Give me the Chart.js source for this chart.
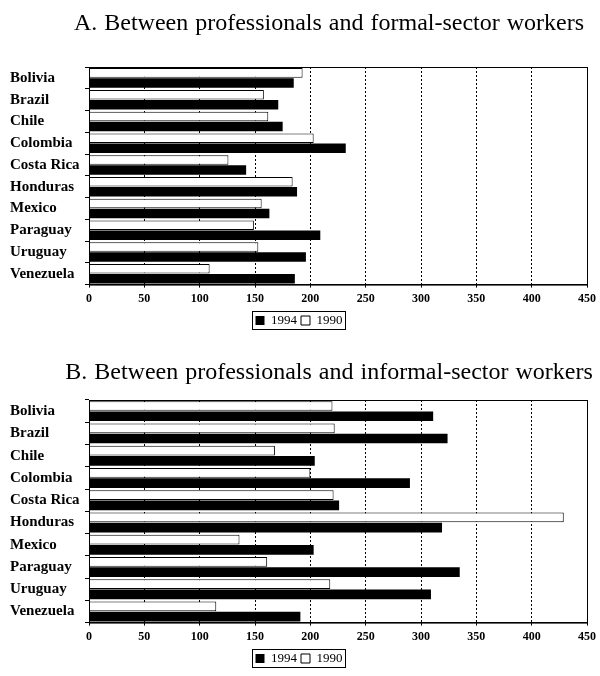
<!DOCTYPE html>
<html lang="en">
<head>
    <meta charset="UTF-8">
    <title>Wage gaps</title>
    <script src="https://cdn.jsdelivr.net/npm/chart.js"></script>
    <style>
        html, body {
            margin: 0;
            padding: 0;
            background: #fff;
        }
        .panel {
            position: relative;
            width: 600px;
            height: 338px;
        }
        .panel canvas {
            display: block;
        }
        .title {
            position: absolute;
            left: 29px;
            width: 600px;
            text-align: center;
            font-family: 'Liberation Serif', serif;
            font-size: 24px;
            line-height: 28px;
            color: #000;
            word-spacing: 1px;
        }
    </style>
</head>
<body>
    <div class="panel">
        <div class="title" style="top: 8px;">A. Between professionals and formal-sector workers</div>
        <canvas id="chartA" width="600" height="338"></canvas>
    </div>
    <div class="panel">
        <div class="title" style="top: 19px;">B. Between professionals and informal-sector workers</div>
        <canvas id="chartB" width="600" height="338"></canvas>
    </div>
    <script>
        const countries = ['Bolivia', 'Brazil', 'Chile', 'Colombia', 'Costa Rica',
                           'Honduras', 'Mexico', 'Paraguay', 'Uruguay', 'Venezuela'];
        const xTicks = [0, 50, 100, 150, 200, 250, 300, 350, 400, 450];

        // Panel A: professionals vs formal-sector workers
        const formal1990 = [193, 158, 162, 203, 126, 184, 156, 149, 153, 109];
        const formal1994 = [185, 171, 175, 232, 142, 188, 163, 209, 196, 186];

        // Panel B: professionals vs informal-sector workers
        const informal1990 = [220, 222, 168, 200, 221, 429, 136, 161, 218, 115];
        const informal1994 = [311, 324, 204, 290, 226, 319, 203, 335, 309, 191];

        // draws the frame around the plot and the box around the legend
        const framePlugin = {
            id: 'frame',
            afterDraw(chart) {
                const ctx = chart.ctx;
                const a = chart.chartArea;
                ctx.save();
                ctx.strokeStyle = '#000';
                ctx.lineWidth = 1;
                ctx.strokeRect(a.left + 0.5, a.top + 0.5, a.right - a.left, a.bottom - a.top);
                const boxes = chart.legend.legendHitBoxes;
                if (boxes && boxes.length) {
                    const first = boxes[0];
                    const last = boxes[boxes.length - 1];
                    const x0 = first.left - 4;
                    const x1 = last.left + last.width + 2;
                    const y0 = first.top - 3;
                    ctx.strokeRect(Math.round(x0) + 0.5, Math.round(y0) + 0.5, Math.round(x1 - x0), first.height + 5);
                }
                ctx.restore();
            }
        };

        function makeChart(id, padTop, d1990, d1994) {
            const ctx = document.getElementById(id).getContext('2d');
            return new Chart(ctx, {
                type: 'bar',
                data: {
                    labels: countries,
                    datasets: [{
                        label: '1990',
                        data: d1990,
                        backgroundColor: '#fff',
                        borderColor: '#000',
                        borderWidth: 1,
                        borderSkipped: 'left'
                    }, {
                        label: '1994',
                        data: d1994,
                        backgroundColor: '#000',
                        borderColor: '#000',
                        borderWidth: 0
                    }]
                },
                options: {
                    indexAxis: 'y',
                    responsive: false,
                    animation: false,
                    layout: { padding: { left: 10, right: 12, top: padTop, bottom: 1 } },
                    datasets: {
                        bar: { categoryPercentage: 0.92, barPercentage: 0.95 }
                    },
                    scales: {
                        x: {
                            min: 0,
                            max: 450,
                            afterBuildTicks: (axis) => { axis.ticks = xTicks.map(v => ({ value: v })); },
                            grid: {
                                color: (c) => c.tick && c.tick.value === 0 ? 'rgba(0,0,0,0)' : '#000',
                                drawTicks: true,
                                tickLength: 3,
                                tickColor: '#000'
                            },
                            border: { display: true, color: '#000', dash: [2, 2] },
                            ticks: {
                                color: '#000',
                                padding: 4,
                                font: { family: 'Liberation Serif', size: 12, weight: 'bold' }
                            }
                        },
                        y: {
                            afterFit: (axis) => { axis.width = 79; },
                            grid: {
                                drawOnChartArea: false,
                                drawTicks: true,
                                tickLength: 4,
                                offset: true,
                                color: '#000'
                            },
                            border: { display: true, color: '#000' },
                            ticks: {
                                color: '#000',
                                crossAlign: 'far',
                                padding: 4,
                                font: { family: 'Liberation Serif', size: 15, weight: 'bold' }
                            }
                        }
                    },
                    plugins: {
                        legend: {
                            position: 'bottom',
                            reverse: true,
                            labels: {
                                color: '#000',
                                boxWidth: 9,
                                boxHeight: 9,
                                padding: 4,
                                font: { family: 'Liberation Serif', size: 13 }
                            }
                        },
                        tooltip: { enabled: false }
                    }
                },
                plugins: [framePlugin]
            });
        }

        makeChart('chartA', 67, formal1990, formal1994);
        makeChart('chartB', 62, informal1990, informal1994);
    </script>
</body>
</html>
